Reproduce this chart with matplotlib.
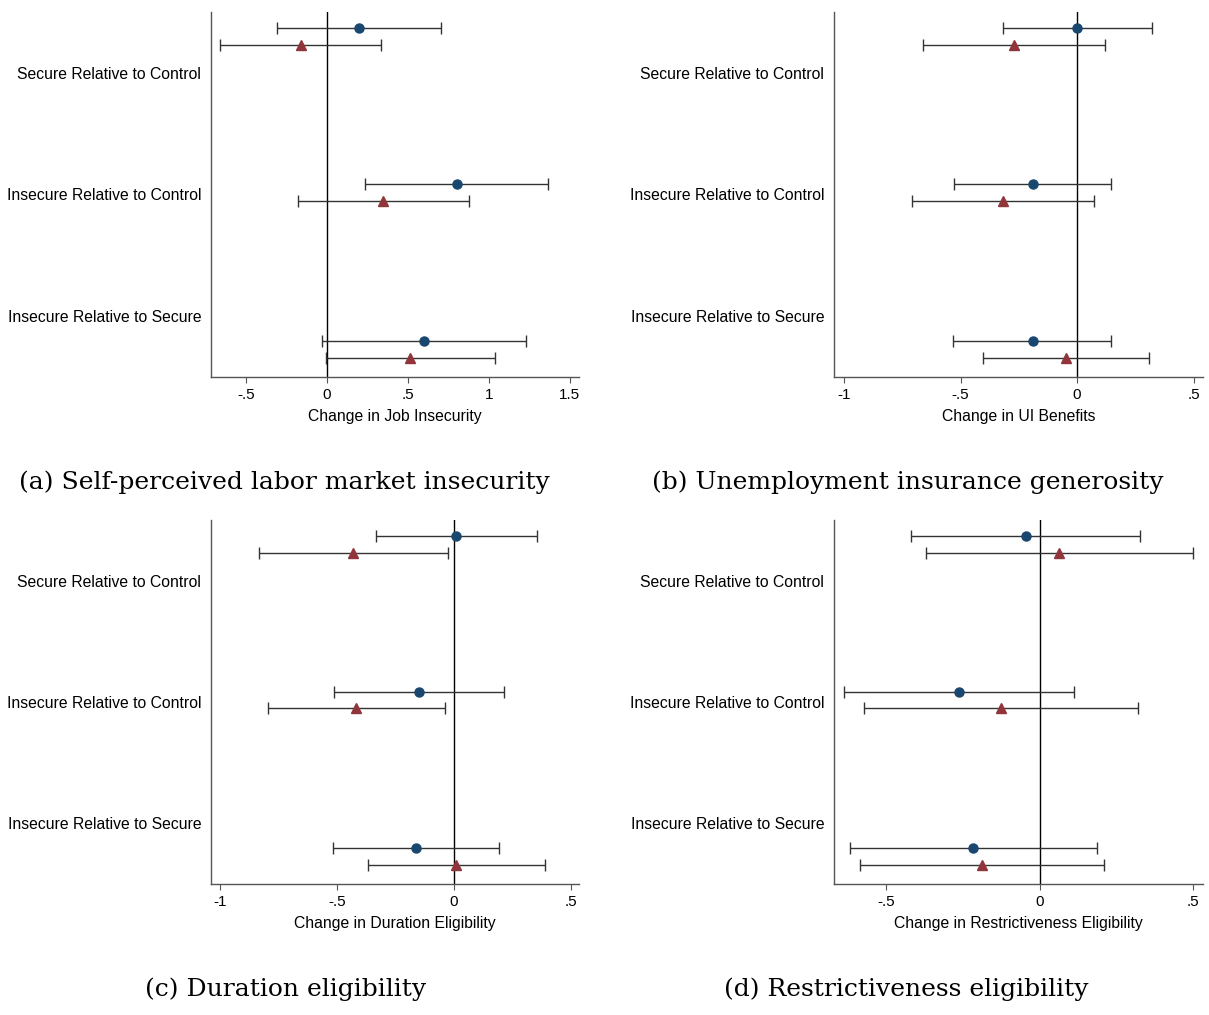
import matplotlib.pyplot as plt

# Row labels (y axis)
rows = ['Secure Relative to Control', 'Insecure Relative to Control', 'Insecure Relative to Secure']

# Panel (a): Job insecurity
a_blue = [0.20, 0.80, 0.60]
a_blue_lo = [-0.306, 0.238, -0.029]
a_blue_hi = [0.705, 1.366, 1.231]
a_red = [-0.163, 0.349, 0.512]
a_red_lo = [-0.661, -0.18, -0.006]
a_red_hi = [0.333, 0.88, 1.035]

# Panel (b): UI benefits
b_blue = [0.0, -0.189, -0.191]
b_blue_lo = [-0.319, -0.527, -0.531]
b_blue_hi = [0.32, 0.147, 0.146]
b_red = [-0.271, -0.319, -0.049]
b_red_lo = [-0.663, -0.709, -0.403]
b_red_hi = [0.12, 0.071, 0.307]

# Panel (c): Duration eligibility
c_blue = [0.011, -0.149, -0.16]
c_blue_lo = [-0.333, -0.513, -0.516]
c_blue_hi = [0.357, 0.214, 0.193]
c_red = [-0.43, -0.419, 0.011]
c_red_lo = [-0.834, -0.797, -0.369]
c_red_hi = [-0.026, -0.039, 0.391]

# Panel (d): Restrictiveness eligibility
d_blue = [-0.046, -0.262, -0.216]
d_blue_lo = [-0.42, -0.638, -0.618]
d_blue_hi = [0.327, 0.112, 0.187]
d_red = [0.062, -0.125, -0.187]
d_red_lo = [-0.371, -0.57, -0.583]
d_red_hi = [0.497, 0.321, 0.21]

# vertical placement of the two series (label rows sit at 1, 2, 3)
label_pos = [1, 2, 3]
blue_pos = [0.63, 1.915, 3.205]
red_pos = [0.77, 2.05, 3.34]

BLUE = '#1a476f'
RED = '#90353b'

panels = [
    dict(rect=[0.1745, 0.6286, 0.3044, 0.3596], xlim=(-0.716, 1.556),
         ticks=[-0.5, 0, 0.5, 1, 1.5], ticklabels=['-.5', '0', '.5', '1', '1.5'],
         xlabel='Change in Job Insecurity', caption='(a) Self-perceived labor market insecurity',
         cx=0.235, cy=0.525,
         data=(a_blue, a_blue_lo, a_blue_hi, a_red, a_red_lo, a_red_hi)),
    dict(rect=[0.6898, 0.6286, 0.3052, 0.3596], xlim=(-1.043, 0.54),
         ticks=[-1, -0.5, 0, 0.5], ticklabels=['-1', '-.5', '0', '.5'],
         xlabel='Change in UI Benefits', caption='(b) Unemployment insurance generosity',
         cx=0.751, cy=0.525,
         data=(b_blue, b_blue_lo, b_blue_hi, b_red, b_red_lo, b_red_hi)),
    dict(rect=[0.1745, 0.129, 0.3044, 0.3586], xlim=(-1.04, 0.536),
         ticks=[-1, -0.5, 0, 0.5], ticklabels=['-1', '-.5', '0', '.5'],
         xlabel='Change in Duration Eligibility', caption='(c) Duration eligibility',
         cx=0.236, cy=0.025,
         data=(c_blue, c_blue_lo, c_blue_hi, c_red, c_red_lo, c_red_hi)),
    dict(rect=[0.6898, 0.129, 0.3052, 0.3586], xlim=(-0.669, 0.531),
         ticks=[-0.5, 0, 0.5], ticklabels=['-.5', '0', '.5'],
         xlabel='Change in Restrictiveness Eligibility', caption='(d) Restrictiveness eligibility',
         cx=0.750, cy=0.025,
         data=(d_blue, d_blue_lo, d_blue_hi, d_red, d_red_lo, d_red_hi)),
]

plt.rcParams['font.family'] = ['Liberation Sans', 'DejaVu Sans']

fig = plt.figure(figsize=(12.09, 10.15), dpi=100)

for p in panels:
    ax = fig.add_axes(p['rect'])
    bm, blo, bhi, rm, rlo, rhi = p['data']
    ax.axvline(0, color='black', lw=1.0, zorder=1)
    for pos, m, lo, hi, col, mk, ms in [(blue_pos, bm, blo, bhi, BLUE, 'o', 6.5),
                                        (red_pos, rm, rlo, rhi, RED, '^', 7.5)]:
        err = [[v - l for v, l in zip(m, lo)], [h - v for v, h in zip(m, hi)]]
        ax.errorbar(m, pos, xerr=err, fmt='none', ecolor='#333333', elinewidth=1.0,
                    capsize=4, capthick=1.0, zorder=2)
        ax.plot(m, pos, linestyle='none', marker=mk, color=col, markersize=ms, zorder=3)
    ax.set_xlim(*p['xlim'])
    ax.set_ylim(3.5, 0.5)
    ax.set_yticks(label_pos)
    ax.set_yticklabels(rows, fontsize=11.3)
    ax.tick_params(axis='y', length=0, pad=7)
    ax.set_xticks(p['ticks'])
    ax.set_xticklabels(p['ticklabels'], fontsize=11)
    ax.tick_params(axis='x', length=4, width=0.8, color='#555555', pad=4)
    ax.set_xlabel(p['xlabel'], fontsize=11.3, labelpad=5)
    for s in ['top', 'right']:
        ax.spines[s].set_visible(False)
    for s in ['left', 'bottom']:
        ax.spines[s].set_color('#555555')
        ax.spines[s].set_linewidth(1.0)
    fig.text(p['cx'], p['cy'], p['caption'], ha='center', va='center',
             fontsize=18, family='DejaVu Serif')

fig.savefig('out.png', dpi=100, facecolor='white')
